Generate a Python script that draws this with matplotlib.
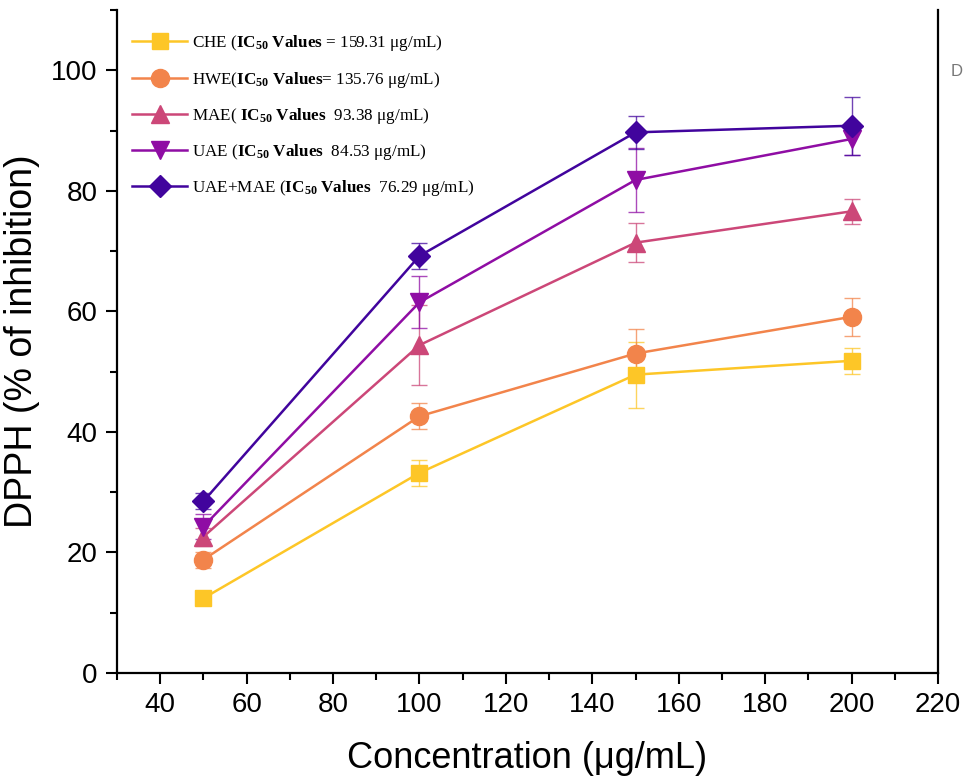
import matplotlib
matplotlib.use("Agg")
import matplotlib.pyplot as plt
from matplotlib.ticker import MultipleLocator

# Concentrations tested (µg/mL)
concentration = [50, 100, 150, 200]

# DPPH radical scavenging (% inhibition), mean values
che = [12.4, 33.2, 49.5, 51.8]
hwe = [18.8, 42.6, 53.0, 59.1]
mae = [22.6, 54.4, 71.4, 76.6]
uae = [24.3, 61.5, 81.8, 88.6]
uae_mae = [28.5, 69.2, 89.7, 90.8]

# Standard deviations
che_sd = [0.5, 2.2, 5.5, 2.2]
hwe_sd = [1.3, 2.2, 4.0, 3.2]
mae_sd = [1.5, 6.6, 3.2, 2.1]
uae_sd = [2.1, 4.3, 5.3, 2.7]
uae_mae_sd = [1.3, 2.1, 2.7, 4.8]

labels = [
    r"CHE ($\mathbf{IC_{50}\ Values}$ = 159.31 μg/mL)",
    r"HWE($\mathbf{IC_{50}\ Values}$= 135.76 μg/mL)",
    r"MAE( $\mathbf{IC_{50}\ Values}$  93.38 μg/mL)",
    r"UAE ($\mathbf{IC_{50}\ Values}$  84.53 μg/mL)",
    r"UAE+MAE ($\mathbf{IC_{50}\ Values}$  76.29 μg/mL)",
]

series = [che, hwe, mae, uae, uae_mae]
errors = [che_sd, hwe_sd, mae_sd, uae_sd, uae_mae_sd]
markers = ["s", "o", "^", "v", "D"]
sizes = [12, 13, 13, 13, 11]
cmap = plt.get_cmap("plasma")
colors = [cmap(v) for v in (0.88, 0.70, 0.50, 0.30, 0.10)]

plt.rcParams["font.family"] = ["Liberation Sans", "DejaVu Sans"]
plt.rcParams["mathtext.fontset"] = "custom"
plt.rcParams["mathtext.rm"] = "Liberation Serif"
plt.rcParams["mathtext.bf"] = "Liberation Serif:bold"
plt.rcParams["mathtext.it"] = "Liberation Serif:italic"

fig = plt.figure(figsize=(9.64, 7.82), dpi=100)
ax = fig.add_axes([117 / 964, 1 - 673 / 782, (938 - 117) / 964, (673 - 10) / 782])

handles = []
for y, e, m, ms, c, lab in zip(series, errors, markers, sizes, colors, labels):
    ax.errorbar(concentration, y, yerr=e, fmt="none", ecolor=c, elinewidth=1.0,
                capsize=6, capthick=1.0, alpha=0.75, zorder=2)
    h, = ax.plot(concentration, y, marker=m, markersize=ms, color=c,
                 linewidth=1.8, label=lab, zorder=3)
    handles.append(h)

ax.set_xlim(30, 220)
ax.set_ylim(0, 110)
ax.xaxis.set_major_locator(MultipleLocator(20))
ax.xaxis.set_minor_locator(MultipleLocator(10))
ax.yaxis.set_minor_locator(MultipleLocator(10))
ax.set_yticks([0, 20, 40, 60, 80, 100])
ax.tick_params(axis="both", which="major", direction="out", length=8, width=1.5,
               labelsize=20, pad=6)
ax.tick_params(axis="both", which="minor", direction="out", length=5, width=1.5)
for side in ("left", "bottom", "right"):
    ax.spines[side].set_linewidth(1.6)
ax.spines["top"].set_visible(False)

ax.set_xlabel("Concentration (μg/mL)", fontsize=26, labelpad=16)
ax.set_ylabel("DPPH (% of inhibition)", fontsize=27, labelpad=8)

ax.legend(handles=handles, loc="upper left", bbox_to_anchor=(0.0, 0.988),
          frameon=False, handlelength=3.2, labelspacing=0.95,
          handletextpad=0.3, borderaxespad=0.5,
          prop={"family": "Liberation Serif", "size": 12.3})

fig.text(951 / 964, 1 - 72 / 782, "D", fontsize=12, color="#777777",
         va="center", ha="left")

fig.savefig("out.png", dpi=100)
